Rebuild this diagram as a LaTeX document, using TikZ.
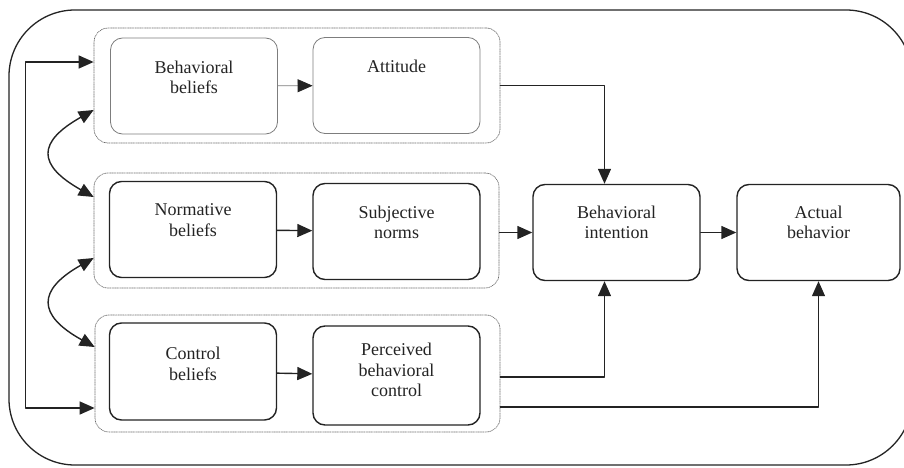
\documentclass[tikz,border=0pt]{standalone}
\usepackage{fontspec}
\setmainfont{Liberation Serif}
\usetikzlibrary{arrows.meta,positioning}
\definecolor{inkA}{RGB}{35,35,35}
\definecolor{lineA}{RGB}{125,125,125}
\definecolor{dotA}{RGB}{105,105,105}
\tikzset{stage/.style={draw=inkA,line width=1.4pt,rounded corners=12pt,minimum width=167pt,minimum height=96pt,inner sep=0pt},
 stagelight/.style={stage,draw=lineA,line width=0.8pt},
 group/.style={draw=dotA,densely dotted,line width=0.7pt,rounded corners=14pt,inner sep=0pt},
 caption/.style={align=center,inner sep=0pt,font=\fontsize{18}{20.5}\selectfont,text=inkA},
 link/.style={draw=inkA,line width=1.4pt,-{Triangle[length=15pt,width=13pt,color=inkA]}},
 twoway/.style={link,{Triangle[length=15pt,width=13pt,color=inkA]}-{Triangle[length=15pt,width=13pt,color=inkA]}},
 every picture/.style={line join=round,line cap=round}}

\begin{document}
\begin{tikzpicture}[x=1pt,y=-1pt]
\useasboundingbox (0,0) rectangle (904,468);
\draw[draw=inkA,line width=1.3pt,rounded corners=66pt] (9,10) rectangle (912,465);
% groups
\node[group,minimum width=406pt,minimum height=115pt] (g1) at (297,85.5) {};
\node[group,minimum width=405pt,minimum height=115pt] (g2) at (296.5,230.5) {};
\node[group,minimum width=405pt,minimum height=117pt] (g3) at (297.5,373.5) {};
% stages
\node[stagelight] (bb) at (194,86) {};
\node[caption,below=23pt of bb.north] (bbt) {Behavioral\\beliefs};
\node[stagelight] (att) at (396.5,85.5) {};
\node[caption,below=23pt of att.north] (attt) {Attitude};
\node[stage] (nb) at (193,229.5) {};
\node[caption,below=23pt of nb.north] (nbt) {Normative\\beliefs};
\node[stage] (sn) at (396.5,231.5) {};
\node[caption,below=23pt of sn.north] (snt) {Subjective\\norms};
\node[stage,minimum height=97pt] (cb) at (193,371.5) {};
\node[caption,below=25pt of cb.north] (cbt) {Control\\beliefs};
\node[stage,minimum height=99pt] (pbc) at (396.5,375.5) {};
\node[caption,below=18pt of pbc.north] (pbct) {Perceived\\behavioral\\control};
\node[stage] (bi) at (616.5,232.5) {};
\node[caption,below=22pt of bi.north] (bit) {Behavioral\\intention};
\node[stage,minimum width=163pt] (ab) at (818.5,232.5) {};
\node[caption,below=22pt of ab.north] (abt) {Actual\\behavior};
% links
\draw[link,draw=lineA,line width=0.8pt] (bb) -- (att);
\draw[link] (nb) -- (sn);
\draw[link] (cb) -- (pbc);
\draw[link] (g1.east) -| ([xshift=-12pt]bi.north);
\draw[link] (g2.east |- bi.west) -- (bi.west);
\draw[link] (bi) -- (ab);
\draw[link] ([yshift=-3.5pt]g3.east) -| ([xshift=-12pt]bi.south);
\draw[link] ([yshift=-33.5pt]g3.east) -| (ab.south);
\draw[twoway] ([yshift=23.5pt]g1.west) -| ([xshift=-69pt,yshift=-34.5pt]g3.west) -- ([yshift=-34.5pt]g3.west);
\draw[twoway] ([yshift=-24.5pt]g1.west) .. controls (37,142) and (37,165) .. ([yshift=33.5pt]g2.west);
\draw[twoway] ([yshift=-27.5pt]g2.west) .. controls (37,290) and (37,315) .. ([yshift=26.5pt]g3.west);
\end{tikzpicture}
\end{document}
